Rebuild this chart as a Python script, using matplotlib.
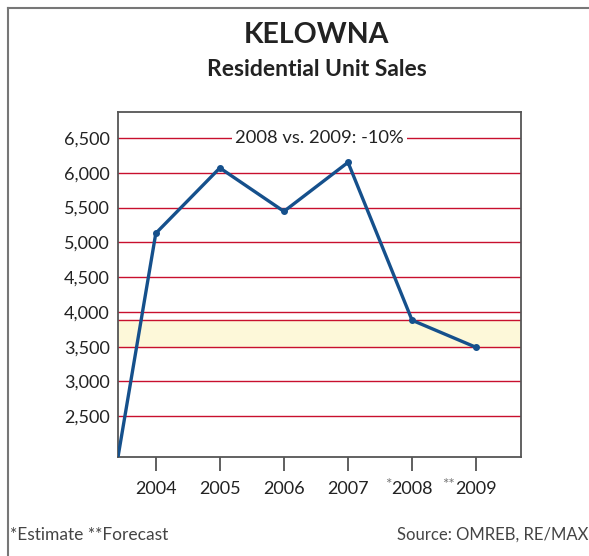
import matplotlib
matplotlib.use("Agg")
import matplotlib.pyplot as plt
import matplotlib.transforms as mtransforms
from matplotlib.lines import Line2D

plt.rcParams['font.family'] = ['Lato', 'DejaVu Sans']

# data
years = [2004, 2005, 2006, 2007, 2008, 2009]
sales = [5130, 6070, 5445, 6150, 3880, 3490]
year_marks = ['', '', '', '', '*', '**']
y_ticks = [2500, 3000, 3500, 4000, 4500, 5000, 5500, 6000, 6500]
band = (3500, 3880)
note = "2008 vs. 2009: -10%"

x_lim = (2003.41, 2009.70)
y_lim = (1914, 6874)

W, H = 589, 556
fig = plt.figure(figsize=(W / 100, H / 100), dpi=100)
ax = fig.add_axes([118 / W, 1 - 457 / H, 403 / W, 345 / H])

red = '#c8102e'
blue = '#15508c'

# highlight band and red grid lines
ax.axhspan(band[0], band[1], color='#fdf8d9', zorder=1)
for v in y_ticks + [band[1]]:
    ax.axhline(v, color=red, lw=1.0, zorder=2)

# the line starts in the lower-left corner of the plot area
xs = [x_lim[0]] + years
ys = [y_lim[0]] + sales
ax.plot(xs, ys, color=blue, lw=2.4, zorder=4, solid_joinstyle='round')
ax.plot(years, sales, 'o', color=blue, ms=4, zorder=5)

trans = mtransforms.blended_transform_factory(ax.transAxes, ax.transData)
ax.text(0.5, 6500, note, transform=trans, ha='center', va='center',
        fontsize=13.2, color='#222222', zorder=6,
        bbox=dict(facecolor='white', edgecolor='none', pad=2))

ax.set_xlim(*x_lim)
ax.set_ylim(*y_lim)
ax.set_yticks(y_ticks)
ax.set_yticklabels([f"{v:,}" for v in y_ticks])
ax.set_xticks(years)
ax.set_xticklabels([str(y) for y in years])
ax.tick_params(axis='y', length=0, pad=6, labelsize=13, labelcolor='#222222')
ax.tick_params(axis='x', length=10, width=1.2, color='#444444', pad=7,
               labelsize=13, labelcolor='#222222')
for s in ax.spines.values():
    s.set_color('#555555')
    s.set_linewidth(1.3)

# asterisks in front of the estimate / forecast years
xtrans = mtransforms.blended_transform_factory(ax.transData, ax.transAxes)
for yr, m in zip(years, year_marks):
    if m:
        ax.annotate(m, xy=(yr, 0), xycoords=xtrans, xytext=(-15, -20.5),
                    textcoords='offset points', ha='right', va='center',
                    fontsize=11, color='#777777', annotation_clip=False)

fig.text(316.5 / W, 1 - 35 / H, 'KELOWNA', ha='center', va='center',
         fontsize=20.5, fontweight='bold', color='#222222')
fig.text(316.5 / W, 1 - 70 / H, 'Residential Unit Sales', ha='center',
         va='center', fontsize=16.5, fontweight='bold', color='#222222')

fig.text(10 / W, 1 - 535 / H, '*Estimate **Forecast', ha='left', va='center',
         fontsize=12.5, color='#444444')
fig.text(588 / W, 1 - 535 / H, 'Source: OMREB, RE/MAX', ha='right',
         va='center', fontsize=12, color='#444444')

# outer frame (left and top edges)
fig.add_artist(Line2D([7.5 / W, 7.5 / W], [0, 1 - 7.5 / H],
                      transform=fig.transFigure, color='#777777', lw=1.5))
fig.add_artist(Line2D([7.5 / W, 1], [1 - 7.5 / H, 1 - 7.5 / H],
                      transform=fig.transFigure, color='#777777', lw=1.5))

fig.savefig('out.png', dpi=100)
